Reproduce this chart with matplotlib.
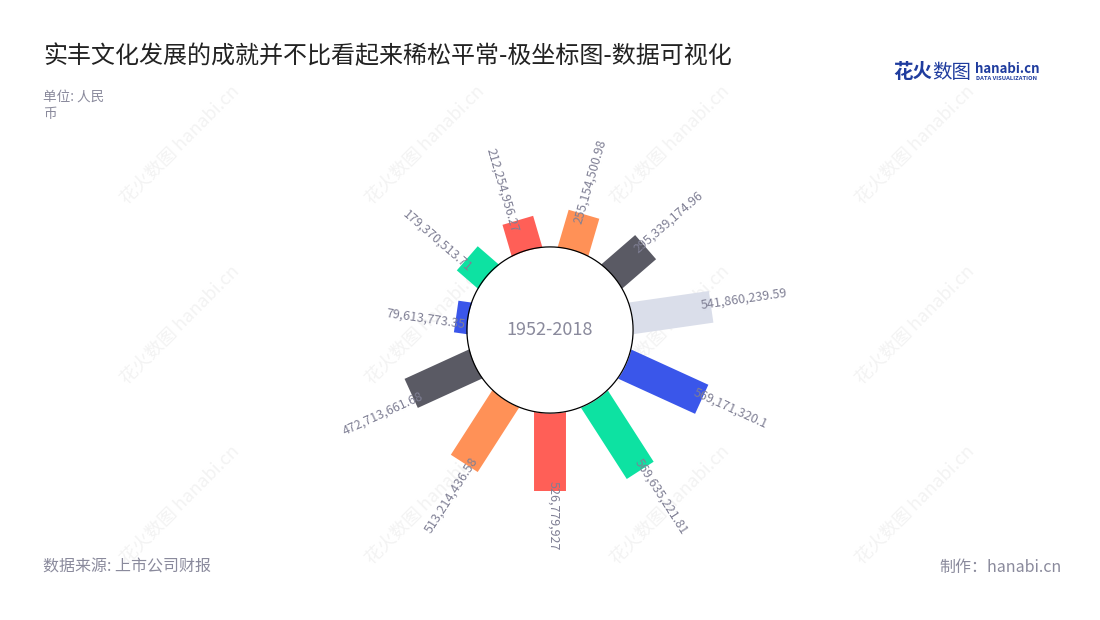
import numpy as np
import matplotlib
matplotlib.use("Agg")
import matplotlib.pyplot as plt

plt.rcParams['font.family'] = ['Noto Sans CJK SC', 'DejaVu Sans']

# 数值 (人民币)，按顺时针顺序
values = [255154500.98, 295339174.96, 541860239.59, 569171320.1, 569635221.81,
          526779927, 513214436.58, 472713661.68, 79613773.35, 179370513.71,
          212254956.27]
labels = ['255,154,500.98', '295,339,174.96', '541,860,239.59', '569,171,320.1',
          '569,635,221.81', '526,779,927', '513,214,436.58', '472,713,661.68',
          '79,613,773.35', '179,370,513.71', '212,254,956.27']
colors = ['#ff9157', '#5a5a64', '#dadeea', '#3a56ea', '#0de2a2', '#ff5f57',
          '#ff9157', '#5a5a64', '#3a56ea', '#0de2a2', '#ff5f57']

TITLE = '实丰文化发展的成就并不比看起来稀松平常-极坐标图-数据可视化'
CENTER_TEXT = '1952-2018'

HOLE = 565      # 内圆半径 (百万)
RMAX = 1360     # 极坐标半径上限 (百万)
LABEL_GRAY = '#8a8a9c'

fig = plt.figure(figsize=(11, 6.2), dpi=100)
fig.patch.set_facecolor('white')

# 水印
for cx in [180, 425, 670, 915]:
    for cy in [145, 325, 505]:
        fig.text(cx / 1100, 1 - cy / 620, '花火数图 hanabi.cn', rotation=45,
                 ha='center', va='center', fontsize=13,
                 color='#f3f3f3', zorder=-5)

ax = fig.add_axes([350 / 1100, 90 / 620, 400 / 1100, 400 / 620], projection='polar')
ax.set_facecolor('none')
ax.set_theta_zero_location('N')
ax.set_theta_direction(-1)
ax.set_ylim(0, RMAX)
ax.set_axis_off()

n = len(values)
theta = 2 * np.pi / n * (np.arange(n) + 0.5)
vals_m = np.array(values) / 1e6

# 柱子: 等宽的径向线段
bars = ax.vlines(theta, HOLE - 20, HOLE + vals_m, colors=colors, linewidth=23, zorder=2)
bars.set_capstyle('butt')

# 中心圆
circ = np.linspace(0, 2 * np.pi, 721)
ax.fill_between(circ, 0, HOLE, color='white', linewidth=0, zorder=3)
ax.plot(circ, np.full_like(circ, HOLE), color='black', linewidth=0.9,
        solid_capstyle='butt', zorder=4)
ax.text(0, 0, CENTER_TEXT, ha='center', va='center', fontsize=13,
        color=LABEL_GRAY, zorder=5)

# 数值标签
for t, v, lab in zip(theta, vals_m, labels):
    deg = np.degrees(t)
    r = HOLE + v - 68
    if deg <= 180.5:
        ax.text(t, r, lab, rotation=90 - deg, rotation_mode='anchor',
                ha='left', va='baseline', fontsize=9, color='#7f7f94',
                zorder=6)
    else:
        ax.text(t, r, lab, rotation=270 - deg, rotation_mode='anchor',
                ha='right', va='top', fontsize=9, color='#7f7f94',
                zorder=6)

# 标题和注释
fig.text(43 / 1100, 1 - 56 / 620, TITLE, fontsize=17.3, color='#222222',
         ha='left', va='center')
fig.text(43 / 1100, 1 - 97 / 620, '单位: 人民', fontsize=9.8, color=LABEL_GRAY,
         ha='left', va='center')
fig.text(43 / 1100, 1 - 114 / 620, '币', fontsize=9.8, color=LABEL_GRAY,
         ha='left', va='center')
fig.text(43 / 1100, 1 - 567 / 620, '数据来源: 上市公司财报', fontsize=11.5,
         color=LABEL_GRAY, ha='left', va='center')
fig.text(1062 / 1100, 1 - 567 / 620, '制作：hanabi.cn', fontsize=11.5,
         color=LABEL_GRAY, ha='right', va='center')

# logo
fig.text(893 / 1100, 1 - 72 / 620, '花火', fontsize=14, fontweight='bold',
         color='#1f3c9e', ha='left', va='center')
fig.text(932 / 1100, 1 - 72 / 620, '数图', fontsize=14, color='#1f3c9e',
         ha='left', va='center')
fig.text(975 / 1100, 1 - 69 / 620, 'hanabi.cn', fontsize=9.5, fontweight='bold',
         color='#1f3c9e', ha='left', va='center')
fig.text(976 / 1100, 1 - 79 / 620, 'DATA VISUALIZATION', fontsize=4.2,
         fontweight='bold', color='#1f3c9e', ha='left', va='center')

fig.savefig('out.png', dpi=100, facecolor='white')
